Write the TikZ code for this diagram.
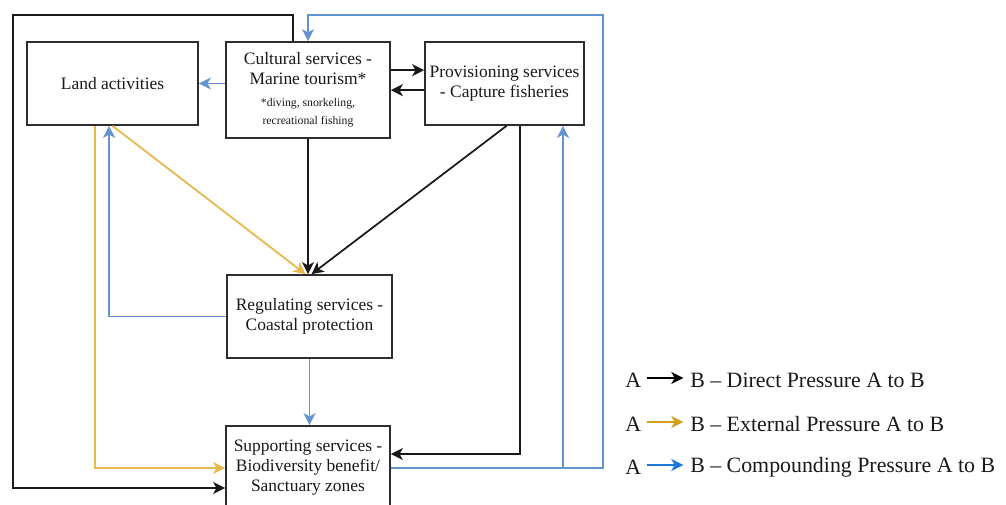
\documentclass[tikz,border=0pt]{standalone}
\usepackage{fontspec}
\setmainfont{Liberation Serif}
\usetikzlibrary{arrows.meta}
\definecolor{dblue}{RGB}{100,148,208}
\definecolor{dyel}{RGB}{232,184,78}
\definecolor{lorange}{RGB}{214,160,25}
\definecolor{lblue}{RGB}{30,120,215}
\definecolor{edge}{RGB}{45,45,45}
\begin{document}
\begin{tikzpicture}[x=0.75pt,y=-0.75pt,
  box/.style={draw=edge, line width=1.3pt, align=center, inner sep=0pt, text=black!90,
    font=\fontsize{13.1}{15}\selectfont},
  tip/.style={-{Stealth[length=9pt,width=9pt,inset=2.5pt]}},
  blk/.style={draw=black!90, line width=1.3pt, tip},
  blu/.style={draw=dblue, line width=1.35pt, tip, color=dblue},
  yel/.style={draw=dyel, line width=1.35pt, tip, color=dyel},
  leg/.style={inner sep=0pt, font=\fontsize{16.4}{18}\selectfont, text=black!90}]
\useasboundingbox (0,0) rectangle (1006,505);
\clip (0,0) rectangle (1006,505);

\node[box, minimum width=128.25pt, minimum height=62.25pt] (land) at (112.5,83.5) {Land activities};
\node[box, minimum width=123pt, minimum height=72pt] (cult) at (308,90)
  {Cultural services -\\Marine tourism*\\[1pt]{\fontsize{8.8}{14}\selectfont *diving, snorkeling,}\\[-1pt]{\fontsize{8.8}{14}\selectfont recreational fishing}};
\node[box, minimum width=119.25pt, minimum height=62.25pt] (prov) at (504.5,83.5) {Provisioning services\\- Capture fisheries};
\node[box, minimum width=123.75pt, minimum height=62.25pt] (reg) at (309.5,316.5) {Regulating services -\\Coastal protection};
\node[box, minimum width=123pt, minimum height=63pt] (supp) at (308,468) {Supporting services -\\Biodiversity benefit/\\Sanctuary zones};

\coordinate (tl) at (13,15);
\coordinate (bl) at (13,488);
\coordinate (tr) at (603,15);
\coordinate (br) at (603,468);
\coordinate (j1) at (563,468);
\coordinate (p1) at ([yshift=10pt]prov.west);
\coordinate (p2) at ([yshift=-5pt]prov.west);

% black outer loop
\draw[blk] ([xshift=-11.25pt]cult.north) |- (tl) -- (bl) -- (bl -| supp.west);
% blue outer loop
\draw[blu] (supp.east) -- (br) -- (tr) -| (cult.north);
\draw[blu] (j1) -- (j1 |- prov.south);
% cultural -> land
\draw[blu] (cult.west |- land.east) -- (land.east);
% cultural <-> provisioning
\draw[blk] (cult.east |- p1) -- (p1);
\draw[blk] (p2) -- (cult.east |- p2);
% into regulating
\draw[blk] (cult.south) -- (cult.south |- reg.north);
\draw[blk] ([xshift=1.5pt]prov.south) -- ([xshift=1.5pt]reg.north);
\draw[yel] (land.south) -- ([xshift=-3pt]reg.north);
% regulating -> land
\draw[blu] (reg.west) -| ([xshift=-2.6pt]land.south);
% land -> supporting
\draw[yel] ([xshift=-13.1pt]land.south) |- (supp.west);
% regulating -> supporting
\draw[blu] (reg.south) -- (reg.south |- supp.north);
% provisioning -> supporting
\draw[blk] ([xshift=11.6pt]prov.south) |- ([yshift=10.5pt]supp.east);

% legend
\node[leg, anchor=west] (a1) at (625,380) {A};
\node[leg, anchor=west] (b1) at (690,380) {B – Direct Pressure A to B};
\node[leg, anchor=west] (a2) at (625,424) {A};
\node[leg, anchor=west] (b2) at (690,424) {B – External Pressure A to B};
\node[leg, anchor=west] (a3) at (625,467) {A};
\node[leg, anchor=west] (b3) at (690,467) {B – Compounding Pressure A to B};
\draw[black, line width=1.6pt, tip] ([xshift=4pt,yshift=1.5pt]a1.east) -- ([xshift=-5pt,yshift=1.5pt]b1.west);
\draw[lorange, line width=1.8pt, tip] ([xshift=4pt,yshift=1.5pt]a2.east) -- ([xshift=-5pt,yshift=1.5pt]b2.west);
\draw[lblue, line width=1.8pt, tip] ([xshift=4pt,yshift=1.5pt]a3.east) -- ([xshift=-5pt,yshift=1.5pt]b3.west);
\end{tikzpicture}
\end{document}
